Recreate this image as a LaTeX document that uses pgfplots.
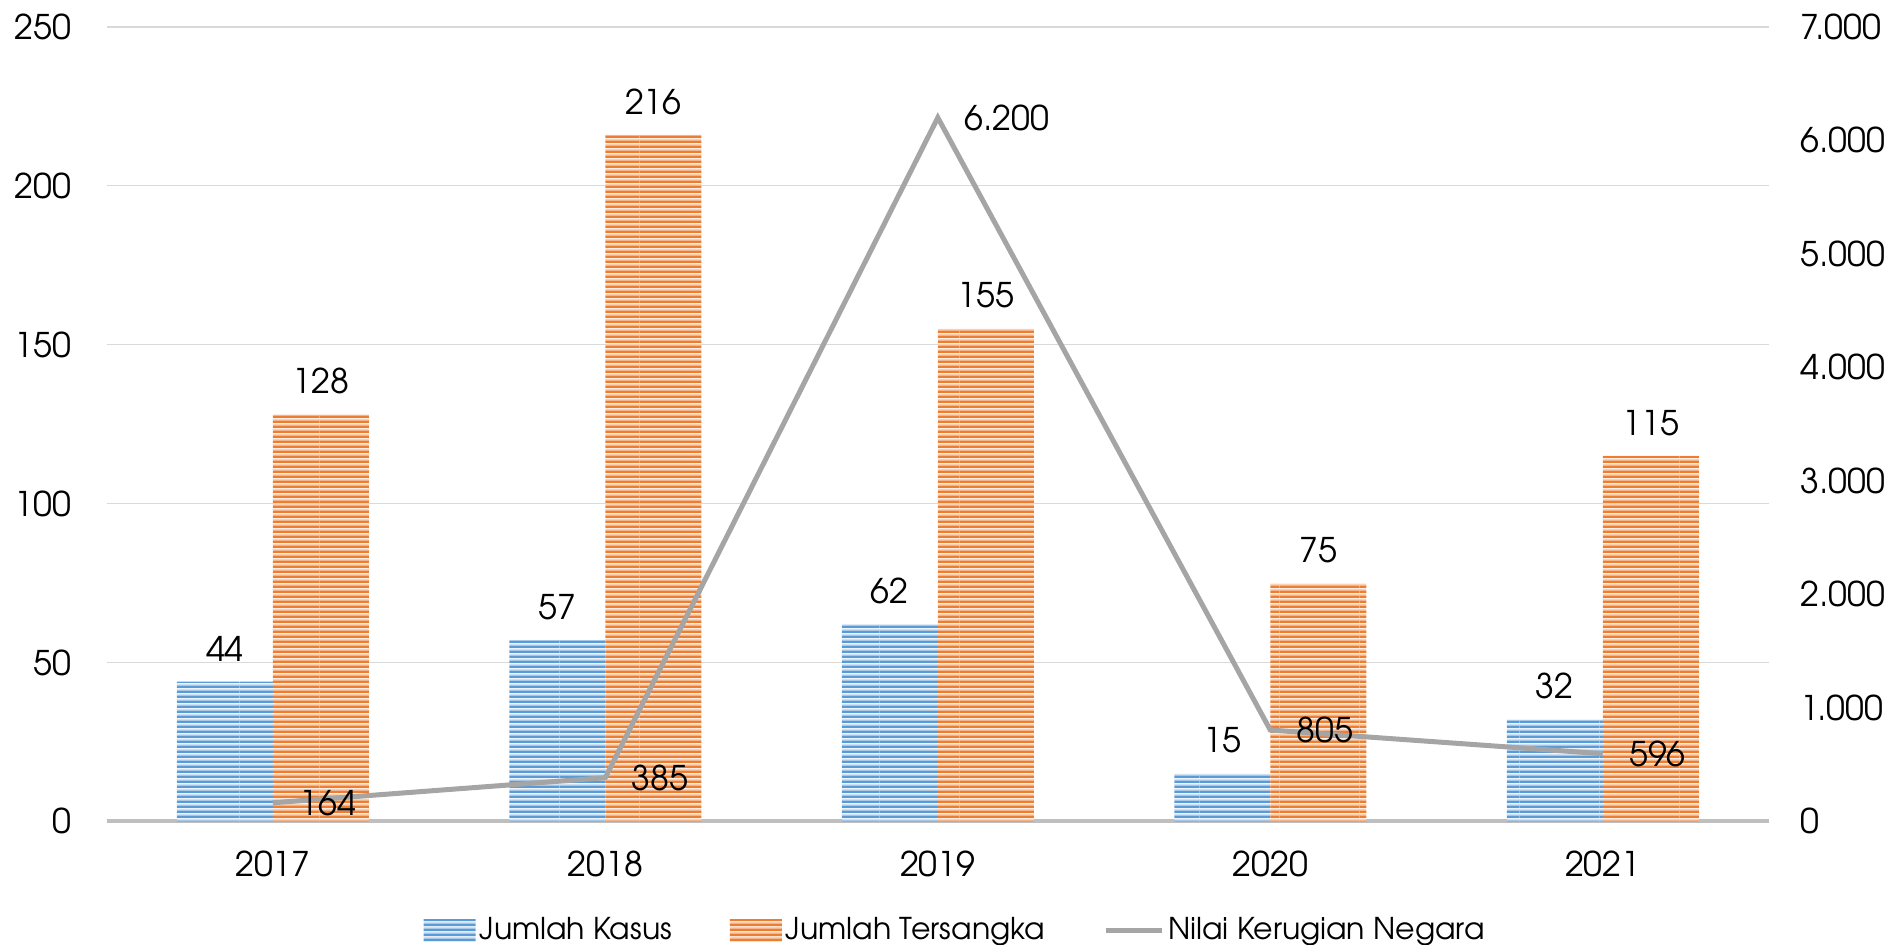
\documentclass[border=0pt]{standalone}
\usepackage{fontspec}
\setmainfont{TeX Gyre Adventor}
\usepackage{pgfplots}
\pgfplotsset{compat=1.18}
\usetikzlibrary{patterns}

\definecolor{kblue}{HTML}{5B9BD5}
\definecolor{kbluelt}{HTML}{CFE1F3}
\definecolor{korange}{HTML}{ED7D31}
\definecolor{korangelt}{HTML}{F9D2B6}
\definecolor{kgray}{HTML}{A5A5A5}
\definecolor{kgrid}{HTML}{D9D9D9}
\definecolor{kaxis}{HTML}{BFBFBF}

% striped fills, two colours each
\pgfdeclarepatterninherentlycolored{bluestripes}{\pgfpointorigin}{\pgfpoint{40bp}{2.35bp}}{\pgfpoint{40bp}{2.35bp}}{%
  \pgfsetfillcolor{kbluelt}\pgfpathrectangle{\pgfpointorigin}{\pgfpoint{40bp}{2.35bp}}\pgfusepath{fill}%
  \pgfsetfillcolor{kblue}\pgfpathrectangle{\pgfpointorigin}{\pgfpoint{40bp}{1.25bp}}\pgfusepath{fill}}
\pgfdeclarepatterninherentlycolored{orangestripes}{\pgfpointorigin}{\pgfpoint{40bp}{2.35bp}}{\pgfpoint{40bp}{2.35bp}}{%
  \pgfsetfillcolor{korangelt}\pgfpathrectangle{\pgfpointorigin}{\pgfpoint{40bp}{2.35bp}}\pgfusepath{fill}%
  \pgfsetfillcolor{korange}\pgfpathrectangle{\pgfpointorigin}{\pgfpoint{40bp}{1.25bp}}\pgfusepath{fill}}

\pgfplotsset{
  base/.style={
    at={(53.3bp,61.8bp)}, anchor=south west,
    scale only axis, width=831.2bp, height=397.3bp,
    xmin=-0.5, xmax=4.5,
    /pgf/number format/assume math mode=true,
    /pgf/number format/1000 sep={.},
    scaled y ticks=false,
    major tick length=0pt, tick style={draw=none},
    font=\fontsize{17bp}{20bp}\selectfont,
  },
  patchlegend/.style={
    legend image code/.code={\path[##1, draw=none] (0bp,-5.5bp) rectangle (26bp,5.5bp);}},
  linelegend/.style={
    legend image code/.code={\draw[##1] (0bp,0bp) -- (28bp,0bp);}},
}

\begin{document}
\begin{tikzpicture}
\useasboundingbox (0,0) rectangle (950bp,472.5bp);

\begin{axis}[base,
    ymin=0, ymax=250, ytick={0,50,...,250},
    xtick={0,...,4}, xticklabels={2017,2018,2019,2020,2021},
    ymajorgrids, grid style={kgrid, line width=0.75bp},
    axis x line*=bottom, axis y line*=left,
    x axis line style={kaxis, line width=2bp, -},
    y axis line style={draw=none},
    yticklabel style={anchor=east, inner sep=0pt, xshift=-17.5bp},
    xticklabel style={anchor=north, inner sep=0pt, yshift=-14.75bp},
    nodes near coords,
    legend style={at={(0.511,-0.137)}, anchor=center, draw=none, fill=none,
      legend columns=3, font=\fontsize{15bp}{18bp}\selectfont,
      /tikz/every even column/.append style={column sep=27bp}},
  ]
  \addplot[ybar, bar width=48bp, bar shift=-24bp, draw=none, pattern=bluestripes, patchlegend,
    nodes near coords style={anchor=south, inner sep=0pt, yshift=10bp, xshift=-24bp, text=black}]
    coordinates {(0,44) (1,57) (2,62) (3,15) (4,32)};
  \addlegendentry{Jumlah Kasus}
  \addplot[ybar, bar width=48bp, bar shift=24bp, draw=none, pattern=orangestripes, patchlegend,
    nodes near coords style={anchor=south, inner sep=0pt, yshift=10bp, xshift=24bp, text=black}]
    coordinates {(0,128) (1,216) (2,155) (3,75) (4,115)};
  \addlegendentry{Jumlah Tersangka}
  \addlegendimage{kgray, line width=2.5bp, linelegend}
  \addlegendentry{Nilai Kerugian Negara}
\end{axis}

\begin{axis}[base,
    ymin=0, ymax=7000, ytick={0,1000,...,7000},
    axis y line*=right, axis x line=none,
    y axis line style={draw=none},
    xtick=\empty,
    yticklabel style={anchor=west, inner sep=0pt, xshift=15.5bp},
  ]
  \addplot[kgray, line width=2.5bp, mark=none, nodes near coords,
    nodes near coords style={anchor=west, inner sep=0pt, xshift=12bp, text=black}]
    coordinates {(0,164) (1,385) (2,6200) (3,805) (4,596)};
\end{axis}
\end{tikzpicture}
\end{document}
